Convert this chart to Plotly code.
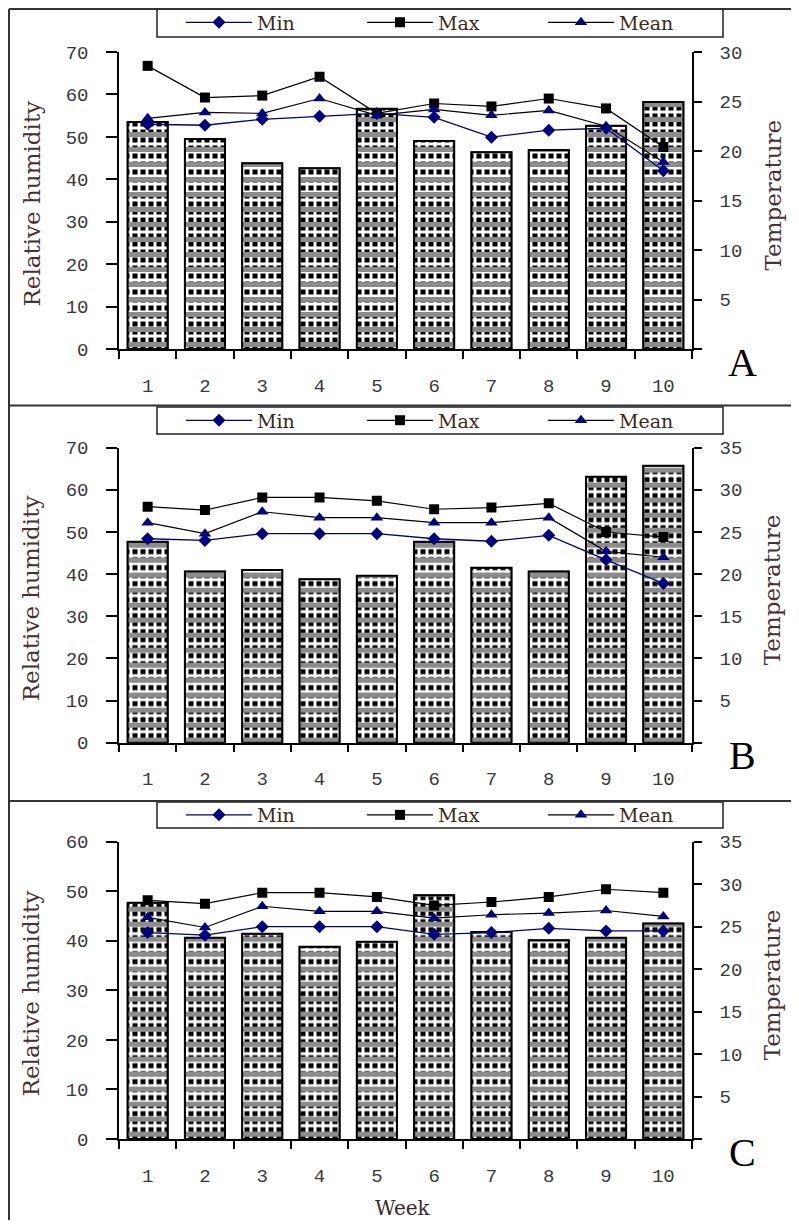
import plotly.graph_objects as go

weeks = ["1", "2", "3", "4", "5", "6", "7", "8", "9", "10"]

# Panel A
rh_a = [53.5, 49.5, 43.8, 42.6, 56.6, 49.0, 46.4, 46.9, 52.6, 58.2]
tmin_a = [22.7, 22.6, 23.2, 23.5, 23.8, 23.4, 21.4, 22.1, 22.3, 18.0]
tmax_a = [28.6, 25.4, 25.6, 27.5, 23.8, 24.8, 24.5, 25.3, 24.3, 20.4]
tmean_a = [23.3, 23.9, 23.8, 25.3, 23.6, 24.2, 23.6, 24.1, 22.5, 18.9]

# Panel B
rh_b = [47.7, 40.6, 41.0, 38.8, 39.6, 47.7, 41.5, 40.6, 63.1, 65.7]
tmin_b = [24.2, 24.0, 24.8, 24.8, 24.8, 24.2, 23.9, 24.6, 21.7, 18.9]
tmax_b = [28.0, 27.6, 29.1, 29.1, 28.7, 27.7, 27.9, 28.4, 25.0, 24.4]
tmean_b = [26.1, 24.8, 27.4, 26.7, 26.7, 26.1, 26.1, 26.7, 22.7, 22.0]

# Panel C
rh_c = [47.7, 40.6, 41.4, 38.8, 39.8, 49.2, 41.8, 40.1, 40.6, 43.5]
tmin_c = [24.3, 24.0, 25.0, 25.0, 25.0, 24.1, 24.3, 24.8, 24.5, 24.5]
tmax_c = [28.1, 27.7, 29.0, 29.0, 28.5, 27.5, 27.9, 28.5, 29.4, 29.0]
tmean_c = [26.1, 24.9, 27.4, 26.8, 26.8, 26.0, 26.4, 26.6, 26.9, 26.2]

panel_labels = ["A", "B", "C"]
rh_ranges = [70, 70, 60]
t_ranges = [30, 35, 35]
series_names = ["Min", "Max", "Mean"]

# page body has an 8px margin; figure sized so the page fits the window
OFF = 8
W, H = 799 - 2 * OFF, 1228 - 2 * OFF
def px_x(p):
    return (p - OFF) / W
def px_y(p):
    return 1 - (p - OFF) / H

panels = [
    dict(rh=rh_a, tmin=tmin_a, tmax=tmax_a, tmean=tmean_a, top=52, bottom=349, legtop=8, legbot=37),
    dict(rh=rh_b, tmin=tmin_b, tmax=tmax_b, tmean=tmean_b, top=447.7, bottom=742.7, legtop=407, legbot=434),
    dict(rh=rh_c, tmin=tmin_c, tmax=tmax_c, tmean=tmean_c, top=841.7, bottom=1139, legtop=802, legbot=828),
]

TICKFONT = dict(family="Liberation Mono", size=19, color="#3a3a3a")
TITLEFONT = dict(family="DejaVu Serif", size=23, color="#4a3030")
LEGFONT = dict(family="DejaVu Serif", size=19, color="#3a2a1a")

fig = go.Figure()
layout = dict()
annotations = []
shapes = []

xdom = [px_x(119), px_x(692)]

for i, p in enumerate(panels):
    xn = "x" if i == 0 else f"x{i+1}"
    xa = "xaxis" if i == 0 else f"xaxis{i+1}"
    yl_idx = 3 * i + 1
    yr_idx = 3 * i + 2
    yi_idx = 3 * i + 3
    yl = "y" if yl_idx == 1 else f"y{yl_idx}"
    yla = "yaxis" if yl_idx == 1 else f"yaxis{yl_idx}"
    yr = f"y{yr_idx}"
    yra = f"yaxis{yr_idx}"
    yia = f"yaxis{yi_idx}"
    leg = "legend" if i == 0 else f"legend{i+1}"

    # Bars: base layer, black squares in a white grid
    fig.add_trace(go.Bar(
        x=weeks, y=p["rh"], xaxis=xn, yaxis=yl, width=0.7, showlegend=False,
        marker=dict(color="black", line=dict(color="black", width=1.5),
                    pattern=dict(shape="+", fgcolor="white", bgcolor="black",
                                 size=8, solidity=0.6)),
        hoverinfo="skip"))
    # Bars: overlay with grey stippled horizontal bands
    fig.add_trace(go.Bar(
        x=weeks, y=p["rh"], xaxis=xn, yaxis=yl, width=0.7, showlegend=False,
        marker=dict(color="rgba(0,0,0,0)", line=dict(color="black", width=2),
                    pattern=dict(shape="-", fgcolor="#8c8c8c", bgcolor="rgba(0,0,0,0)",
                                 size=15, solidity=0.33)),
        name="Relative humidity"))

    fig.add_trace(go.Scatter(
        x=weeks, y=p["tmin"], xaxis=xn, yaxis=yr, name=series_names[0], legend=leg,
        mode="lines+markers", line=dict(color="#000080", width=1.3),
        marker=dict(symbol="diamond", size=10, color="#000080")))
    fig.add_trace(go.Scatter(
        x=weeks, y=p["tmax"], xaxis=xn, yaxis=yr, name=series_names[1], legend=leg,
        mode="lines+markers", line=dict(color="black", width=1.2),
        marker=dict(symbol="square", size=10, color="black")))
    fig.add_trace(go.Scatter(
        x=weeks, y=p["tmean"], xaxis=xn, yaxis=yr, name=series_names[2], legend=leg,
        mode="lines+markers", line=dict(color="black", width=1.2),
        marker=dict(symbol="triangle-up", size=11, color="#000080")))

    ydom = [px_y(p["bottom"]), px_y(p["top"])]
    layout[xa] = dict(domain=xdom, anchor=yl, type="category", tickson="boundaries",
                      range=[-0.5, len(weeks) - 0.5], autorange=False,
                      ticks="outside", ticklen=8, tickwidth=1.5, tickcolor="black",
                      showline=True, linecolor="black", linewidth=1.5,
                      showgrid=False, zeroline=False, tickfont=TICKFONT,
                      ticklabelstandoff=18, fixedrange=True, automargin=False)
    rmax = rh_ranges[i]
    layout[yla] = dict(domain=ydom, anchor=xn, range=[0, rmax], tickmode="linear",
                       tick0=0, dtick=10, ticks="outside", ticklen=11, tickwidth=1.5,
                       tickcolor="black", showline=True, linecolor="black", linewidth=1.5,
                       showgrid=False, zeroline=False, tickfont=TICKFONT,
                       ticklabelstandoff=14, automargin=False)
    tmax_r = t_ranges[i]
    tv = list(range(0, tmax_r + 1, 5))
    tt = [""] + [str(v) for v in tv[1:]]
    layout[yra] = dict(overlaying=yl, anchor=xn, side="right", range=[0, tmax_r],
                       tickmode="array", tickvals=tv, ticktext=tt, ticks="outside",
                       ticklen=8, tickwidth=1.5, tickcolor="black", showline=True,
                       linecolor="black", linewidth=1.5, showgrid=False, zeroline=False,
                       tickfont=TICKFONT, ticklabelstandoff=14, automargin=False)
    layout[yia] = dict(overlaying=yl, anchor=xn, side="right", range=[0, tmax_r],
                       tickmode="array", tickvals=tv, ticks="inside", ticklen=11,
                       tickwidth=1.5, tickcolor="black", showline=False,
                       showticklabels=False, showgrid=False, zeroline=False,
                       automargin=False)

    legmid = (p["legtop"] + p["legbot"]) / 2
    layout[leg] = dict(x=px_x(181), y=px_y(legmid), xanchor="left", yanchor="middle",
                       orientation="h", borderwidth=0, bgcolor="rgba(0,0,0,0)",
                       font=LEGFONT, itemwidth=66, entrywidth=100,
                       itemclick=False, itemdoubleclick=False)
    shapes.append(dict(type="rect", xref="paper", yref="paper",
                       x0=px_x(157), x1=px_x(723), y0=px_y(p["legbot"]), y1=px_y(p["legtop"]),
                       line=dict(color="#222222", width=1.5), fillcolor="rgba(0,0,0,0)"))

    ymid = (p["top"] + p["bottom"]) / 2
    annotations.append(dict(text="Relative humidity", textangle=-90, x=px_x(31),
                            y=px_y(ymid + 3), xref="paper", yref="paper", showarrow=False,
                            font=TITLEFONT, xanchor="center", yanchor="middle"))
    annotations.append(dict(text="Temperature", textangle=-90, x=px_x(772),
                            y=px_y(ymid - 5), xref="paper", yref="paper", showarrow=False,
                            font=TITLEFONT, xanchor="center", yanchor="middle"))
    annotations.append(dict(text=panel_labels[i], x=px_x(742), y=px_y(p["bottom"] + 13),
                            xref="paper", yref="paper", showarrow=False,
                            font=dict(family="Liberation Serif", size=40, color="black"),
                            xanchor="center", yanchor="middle"))

annotations.append(dict(text="Week", x=px_x(403), y=px_y(1208), xref="paper", yref="paper",
                        showarrow=False, font=dict(family="DejaVu Serif", size=20, color="#3a2a2a"),
                        xanchor="center", yanchor="middle"))

# Panel frames
frame = dict(type="line", xref="paper", yref="paper", line=dict(color="#333333", width=2))
shapes.append(dict(frame, x0=px_x(9), x1=px_x(9), y0=px_y(9), y1=0))
for yy in [9, 405.5, 801]:
    shapes.append(dict(frame, x0=px_x(9), x1=1, y0=px_y(yy), y1=px_y(yy)))

fig.update_layout(**layout)
fig.update_layout(template="none", width=W, height=H,
                  margin=dict(l=0, r=0, t=0, b=0, pad=0, autoexpand=False),
                  paper_bgcolor="white", plot_bgcolor="white", barmode="overlay",
                  annotations=annotations, shapes=shapes, hovermode=False)

fig.write_html("out.html")
